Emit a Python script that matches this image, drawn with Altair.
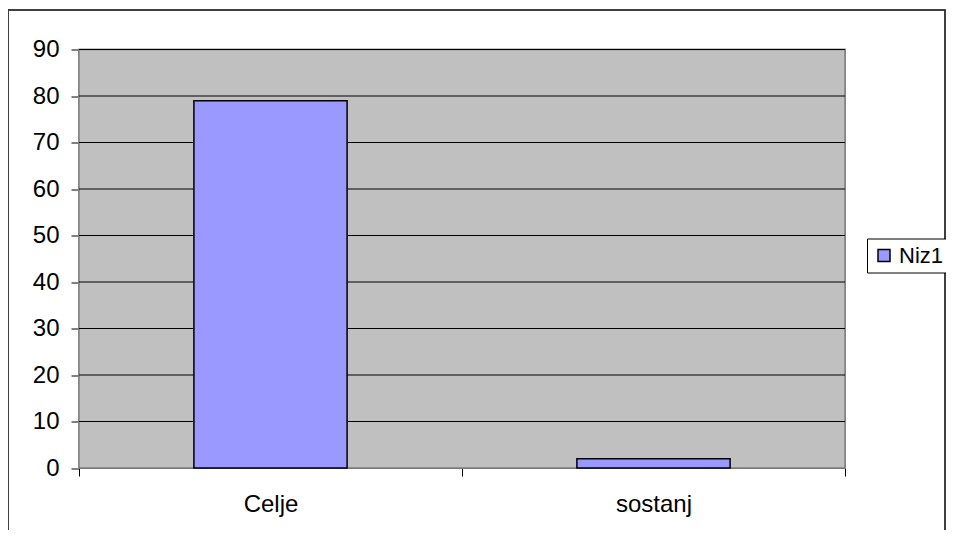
import altair as alt
import pandas as pd

categories = ["Celje", "sostanj"]
values = [79, 2]
series_name = "Niz1"
y_ticks = [0, 10, 20, 30, 40, 50, 60, 70, 80, 90]

df = pd.DataFrame({"cat": categories, "val": values, "series": [series_name] * len(categories)})
grid_df = pd.DataFrame({"g": y_ticks[1:]})

FONT = "Liberation Sans"
W, H = 766, 418.5

bg = alt.Chart(df).mark_rect(fill="#C0C0C0", stroke="#808080", strokeWidth=1.5).encode(
    x=alt.value(0), x2=alt.value(W), y=alt.value(0), y2=alt.value(H)
)

grid = alt.Chart(grid_df).mark_rule(color="black", strokeWidth=1).encode(
    y=alt.Y("g:Q", scale=alt.Scale(domain=[0, 90], nice=False)),
    x=alt.value(0), x2=alt.value(W)
)

bars = alt.Chart(df).mark_bar(stroke="black", strokeWidth=1.5, width={"band": 0.4}).encode(
    x=alt.X("cat:N", sort=categories, title=None,
            scale=alt.Scale(paddingInner=0, paddingOuter=0),
            axis=alt.Axis(labelAngle=0, tickBand="extent", tickSize=8, tickColor="black",
                          domainColor="black", labelFontSize=24, labelFont=FONT,
                          labelColor="black", labelPadding=16, grid=False)),
    y=alt.Y("val:Q", title=None,
            scale=alt.Scale(domain=[0, 90], nice=False),
            axis=alt.Axis(values=y_ticks, tickSize=8, tickColor="black", domainColor="black",
                          grid=False, labelFontSize=24,
                          labelFont=FONT, labelColor="black", labelPadding=12)),
    color=alt.Color("series:N", title=None,
                    scale=alt.Scale(domain=[series_name], range=["#9999FF"]),
                    legend=alt.Legend(orient="none", legendX=788, legendY=189,
                                      strokeColor="black", fillColor="white", padding=6,
                                      symbolType="square", symbolSize=144,
                                      symbolStrokeColor="black", symbolStrokeWidth=1.5,
                                      labelOffset=4, labelFontSize=22, labelFont=FONT,
                                      labelColor="black", cornerRadius=0)),
)

frame = alt.Chart(df).mark_rect(fill="white", fillOpacity=0, stroke="#333333", strokeWidth=1.5).encode(
    x=alt.value(-71), x2=alt.value(866), y=alt.value(-39.5), y2=alt.value(530)
)

chart = alt.layer(bg, grid, bars, frame).properties(
    width=W, height=H,
    padding={"left": 71, "top": 41.5, "right": 101, "bottom": 62},
    autosize=alt.AutoSizeParams(type="none"),
).configure_view(
    stroke=None
).configure(background="white")

chart.save("out.html", embed_options={"renderer": "svg", "actions": False})
